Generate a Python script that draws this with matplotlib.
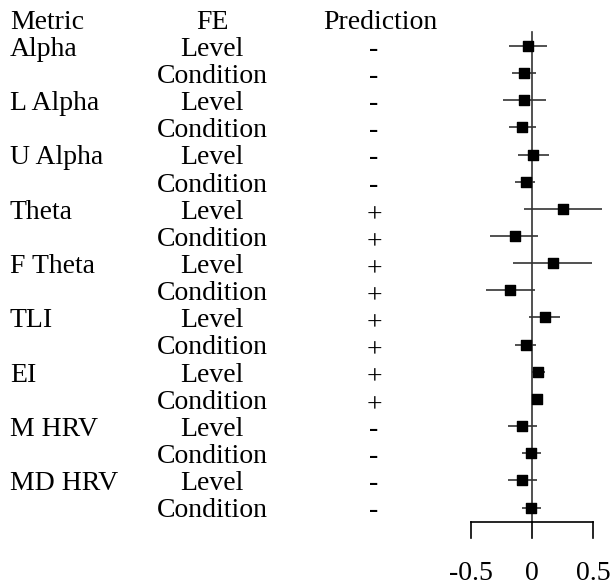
import matplotlib
matplotlib.use("Agg")
import matplotlib.pyplot as plt
import matplotlib.transforms as mtransforms

metrics = ["Alpha", "L Alpha", "U Alpha", "Theta", "F Theta", "TLI", "EI", "M HRV", "MD HRV"]
fe = ["Level", "Condition"]
predictions = ["-", "-", "-", "-", "-", "-", "+", "+", "+", "+", "+", "+", "+", "+", "-", "-", "-", "-"]
estimates = [-0.03, -0.063, -0.063, -0.082, 0.008, -0.052, 0.25, -0.142, 0.172, -0.18,
             0.106, -0.052, 0.046, 0.038, -0.084, -0.005, -0.084, -0.011]
ci_low = [-0.185, -0.166, -0.234, -0.185, -0.117, -0.139, -0.065, -0.343, -0.158, -0.376,
          -0.027, -0.139, 0.0, 0.02, -0.193, -0.084, -0.193, -0.084]
ci_high = [0.125, 0.033, 0.114, 0.035, 0.142, 0.025, 0.569, 0.052, 0.49, 0.022,
           0.229, 0.033, 0.103, 0.06, 0.044, 0.071, 0.038, 0.071]
xticks = [-0.5, 0, 0.5]
xtick_labels = ["-0.5", "0", "0.5"]

plt.rcParams["font.family"] = ["Liberation Serif", "DejaVu Serif"]
W, H = 610, 586
fig = plt.figure(figsize=(W / 100, H / 100), dpi=100)
ax = fig.add_axes([0, 0, 1, 1])
ax.set_axis_off()

px_per_unit = 122.4
zero_px = 532
row0_px = 46
row_h = 27.15
ax.set_xlim(-zero_px / px_per_unit, (W - zero_px) / px_per_unit)
ax.set_ylim((H - row0_px) / row_h + 1, (0 - row0_px) / row_h + 1)

n = len(estimates)
rows = list(range(1, n + 1))
fs = 20
toff = 0.12  # text vertical offset (rows)

trans = mtransforms.blended_transform_factory(fig.transFigure, ax.transData)
# headers
ax.text(10 / W, 0 + toff, "Metric", transform=trans, ha="left", va="center", fontsize=fs)
ax.text(212 / W, 0 + toff, "FE", transform=trans, ha="center", va="center", fontsize=fs)
ax.text(380 / W, 0 + toff, "Prediction", transform=trans, ha="center", va="center", fontsize=fs)

for i, r in enumerate(rows):
    if i % 2 == 0:
        ax.text(10 / W, r + toff, metrics[i // 2], transform=trans, ha="left", va="center", fontsize=fs)
    ax.text(212 / W, r + toff, fe[i % 2], transform=trans, ha="center", va="center", fontsize=fs)
    poff = toff + (0.12 if predictions[i] == "+" else 0.0)
    ax.text(374 / W, r + poff, predictions[i], transform=trans, ha="center", va="center", fontsize=fs)

# forest
base_y = (521.7 - row0_px) / row_h + 1
tick_y = (538 - row0_px) / row_h + 1
top_y = (31.7 - row0_px) / row_h + 1
label_y = (580 - row0_px) / row_h + 1

ax.plot([0, 0], [top_y, base_y], color="#333333", lw=1.2)
ax.hlines(rows, ci_low, ci_high, color="#333333", lw=1.2)
ax.scatter(estimates, rows, marker="s", s=45, color="black", zorder=3)

ax.plot([xticks[0], xticks[-1]], [base_y, base_y], color="black", lw=1.2)
for t, lab in zip(xticks, xtick_labels):
    ax.plot([t, t], [base_y, tick_y], color="black", lw=1.2)
    ax.text(t, label_y, lab, ha="center", va="baseline", fontsize=fs)

fig.savefig("out.png", dpi=100)
